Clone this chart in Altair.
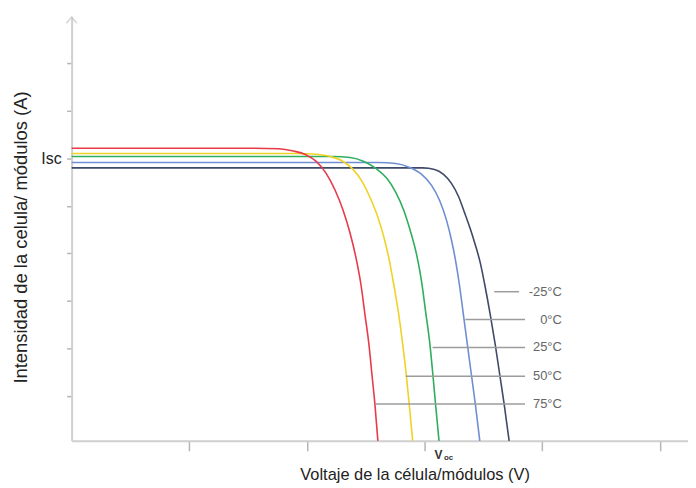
import altair as alt
import pandas as pd

# ---- data (voltage V and current I in axis-tick units)
temps = ["-25°C", "0°C", "25°C", "50°C", "75°C"]
colors = ["#3d4a68", "#6f8fd2", "#2fae5e", "#f0d226", "#e83a48"]

V_n25 = [0.0, 2.9839, 3.0854, 3.1614, 3.2291, 3.2883, 3.3390, 3.3897, 3.4320, 3.4742, 3.5123, 3.5588, 3.6010, 3.6391, 3.6771, 3.7194]
I_n25 = [5.7955, 5.7955, 5.7641, 5.6597, 5.4716, 5.2000, 4.8657, 4.5105, 4.1762, 3.8001, 3.3404, 2.7136, 2.0867, 1.4599, 0.8331, 0.0600]

V_0 = [0.0, 2.6036, 2.7557, 2.8740, 2.9755, 3.0600, 3.1277, 3.1868, 3.2291, 3.2629, 3.2967, 3.3305, 3.3643, 3.3981, 3.4320, 3.4700]
I_0 = [5.9104, 5.9104, 5.8895, 5.8059, 5.6597, 5.4298, 5.1164, 4.6985, 4.2806, 3.8627, 3.3404, 2.7136, 2.0867, 1.4599, 0.8331, 0.0600]

V_25 = [0.0, 2.2232, 2.3669, 2.4852, 2.5866, 2.6796, 2.7557, 2.8233, 2.8825, 2.9332, 2.9755, 3.0093, 3.0431, 3.0685, 3.0938, 3.1234]
I_25 = [6.0357, 6.0357, 6.0149, 5.9313, 5.7850, 5.5761, 5.2836, 4.9075, 4.4478, 3.9672, 3.4031, 2.7762, 2.1494, 1.5226, 0.8331, 0.0600]

V_50 = [0.0, 1.9273, 2.0795, 2.1978, 2.3077, 2.3922, 2.4683, 2.5359, 2.6036, 2.6543, 2.6965, 2.7388, 2.7811, 2.8149, 2.8445, 2.8698, 2.8994]
I_50 = [6.0984, 6.0984, 6.0817, 6.0357, 5.9313, 5.7641, 5.5134, 5.1791, 4.7612, 4.3433, 3.9046, 3.3404, 2.7136, 2.0867, 1.4599, 0.8331, 0.0600]

V_75 = [0.0, 1.5046, 1.7582, 1.8850, 1.9865, 2.0795, 2.1640, 2.2401, 2.3077, 2.3669, 2.4176, 2.4599, 2.4937, 2.5275, 2.5529, 2.5782, 2.6036]
I_75 = [6.2092, 6.2092, 6.1966, 6.1507, 6.0776, 5.9313, 5.6806, 5.3254, 4.9075, 4.4269, 3.9046, 3.3404, 2.7136, 2.0867, 1.4599, 0.8331, 0.0600]

# leader lines of the temperature labels
label_I = [3.1941, 2.6091, 2.0241, 1.4181, 0.8331]
label_V_start = [3.5926, 3.3474, 3.0685, 2.8402, 2.5782]
label_V_end = [3.8039, 3.8546, 3.8546, 3.8546, 3.8546]
label_V_text = [4.1674, 4.1674, 4.1674, 4.1674, 4.1674]

y_ticks = [1, 2, 3, 4, 5, 6, 7, 8]
x_ticks = [1, 2, 3, 4, 5]
x_domain = [0, 5.24]
y_domain = [0.06, 8.98]

rows = []
for t, vs, is_ in zip(temps, [V_n25, V_0, V_25, V_50, V_75], [I_n25, I_0, I_25, I_50, I_75]):
    for k, (v, i) in enumerate(zip(vs, is_)):
        rows.append({"temp": t, "V": v, "I": i, "order": k})
curves = pd.DataFrame(rows)

labels = pd.DataFrame({"temp": temps, "I": label_I, "V0": label_V_start,
                       "V1": label_V_end, "Vt": label_V_text})

xs = alt.Scale(domain=x_domain, nice=False, zero=False)
ys = alt.Scale(domain=y_domain, nice=False, zero=False)

font = "Liberation Sans"

base_axes = alt.Chart(pd.DataFrame({"V": [0.0], "I": [0.06]})).mark_point(opacity=0).encode(
    x=alt.X("V:Q", scale=xs,
            axis=alt.Axis(values=x_ticks, labels=False, grid=False, domainColor="#cfcfcf",
                          domainWidth=2, tickColor="#b5b5b5", tickSize=10, tickWidth=1.5,
                          title="Voltaje de la célula/módulos (V)", titleFont=font,
                          titleFontSize=16.5, titleFontWeight="normal", titleColor="#222222",
                          titleX=345, titleY=34, titleBaseline="middle", titleAlign="center")),
    y=alt.Y("I:Q", scale=ys,
            axis=alt.Axis(values=y_ticks, labels=False, grid=False, domainColor="#cfcfcf",
                          domainWidth=2, tickColor="#b5b5b5", tickSize=5, tickWidth=1.5,
                          title="Intensidad de la celula/ módulos (A)", titleFont=font,
                          titleFontSize=18.5, titleFontWeight="normal", titleColor="#222222",
                          titleX=-51, titleY=222, titleBaseline="middle", titleAlign="center",
                          titleAngle=270)),
)

lines = alt.Chart(curves).mark_line(strokeWidth=1.6, interpolate="monotone").encode(
    x=alt.X("V:Q", scale=xs),
    y=alt.Y("I:Q", scale=ys),
    color=alt.Color("temp:N", scale=alt.Scale(domain=temps, range=colors), legend=None),
    order="order:Q",
)

leaders = alt.Chart(labels).mark_rule(color="#9c9c9c", strokeWidth=1.5).encode(
    x=alt.X("V0:Q", scale=xs), x2="V1:Q", y=alt.Y("I:Q", scale=ys),
)

label_text = alt.Chart(labels).mark_text(align="right", baseline="middle", font=font,
                                         fontSize=13, color="#666666").encode(
    x=alt.X("Vt:Q", scale=xs), y=alt.Y("I:Q", scale=ys), text="temp:N",
)

isc = alt.Chart(pd.DataFrame({"V": [-0.085], "I": [5.973], "t": ["Isc"]})).mark_text(
    align="right", baseline="middle", font=font, fontSize=16, color="#222222").encode(
    x=alt.X("V:Q", scale=xs), y=alt.Y("I:Q", scale=ys), text="t:N")

voc_v = alt.Chart(pd.DataFrame({"V": [3.119], "I": [-0.232], "t": ["V"]})).mark_text(
    align="center", baseline="middle", font=font, fontSize=12, fontWeight="bold", color="#333333").encode(
    x=alt.X("V:Q", scale=xs), y=alt.Y("I:Q", scale=ys), text="t:N")
voc_sub = alt.Chart(pd.DataFrame({"V": [3.204], "I": [-0.30], "t": ["oc"]})).mark_text(
    align="center", baseline="middle", font=font, fontSize=8, fontWeight="bold", color="#333333").encode(
    x=alt.X("V:Q", scale=xs), y=alt.Y("I:Q", scale=ys), text="t:N")

arrow = alt.Chart(pd.DataFrame({"V": [0.0], "I": [8.90]})).mark_point(
    shape="M-1,0.6L0,-0.6L1,0.6", filled=False, size=110, color="#c4c4c4", strokeWidth=1.5).encode(
    x=alt.X("V:Q", scale=xs), y=alt.Y("I:Q", scale=ys))

chart = alt.layer(base_axes, lines, leaders, label_text, isc, voc_v, voc_sub, arrow).properties(
    width=620, height=427,
    autosize=alt.AutoSizeParams(type="none"),
    padding={"left": 64, "top": 7, "right": 0, "bottom": 46},
    background="white",
).configure_view(stroke=None)

chart.save("out.html", embed_options={"renderer": "svg", "actions": False})
